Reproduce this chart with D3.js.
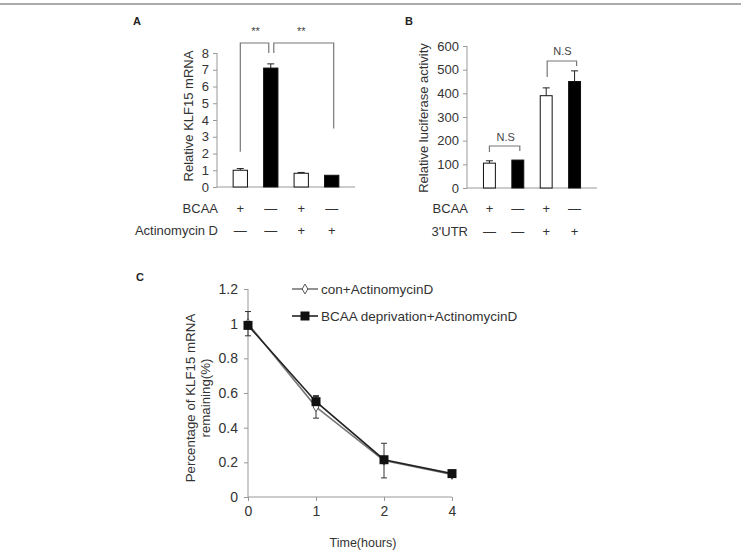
<!DOCTYPE html>
<html>
<head>
<meta charset="utf-8">
<script src="https://cdn.jsdelivr.net/npm/d3@7"></script>
<style>
  body { margin: 0; background: #fff; }
  svg { display: block; font-family: "Liberation Sans", Arial, sans-serif; }
</style>
</head>
<body>
<svg id="fig" width="741" height="560"></svg>
<script>
// panel A data
const groupsA = ["g1", "g2", "g3", "g4"];
const valuesA = [1.0, 7.1, 0.82, 0.7];
const errorsA = [0.1, 0.25, 0.05, 0.02];
const fillA = ["white", "black", "white", "black"];
const bcaaA = ["+", "—", "+", "—"];
const actinoA = ["—", "—", "+", "+"];
const ticksA = [0, 1, 2, 3, 4, 5, 6, 7, 8];

// panel B data
const groupsB = ["g1", "g2", "g3", "g4"];
const valuesB = [105, 118, 390, 450];
const errorsB = [10, 2, 33, 45];
const fillB = ["white", "black", "white", "black"];
const bcaaB = ["+", "—", "+", "—"];
const utrB = ["—", "—", "+", "+"];
const ticksB = [0, 100, 200, 300, 400, 500, 600];

// panel C data
const timesC = ["0", "1", "2", "4"];
const conC = [1.0, 0.52, 0.21, 0.13];
const conErr = [0.07, 0.065, 0.1, 0.01];
const bcaaC = [0.99, 0.55, 0.215, 0.135];
const bcaaErr = [0.0, 0.03, 0.0, 0.0];
const ticksC = [0, 0.2, 0.4, 0.6, 0.8, 1.0, 1.2];

const svg = d3.select("#fig");
const textCol = "#333";
const axisCol = "#999";

// top rule
svg.append("line")
    .attr("x1", 0).attr("x2", 741).attr("y1", 4).attr("y2", 4)
    .attr("stroke", "#aaa").attr("stroke-width", 2);

function panelLetter(x, y, t) {
    svg.append("text").attr("x", x).attr("y", y)
        .attr("font-size", 11).attr("font-weight", "bold").attr("fill", "#222")
        .text(t);
}
panelLetter(133, 25, "A");
panelLetter(405, 25, "B");
panelLetter(136, 281, "C");

function barPanel(opt) {
    const g = svg.append("g");
    const x = d3.scaleBand().domain(opt.groups).range([opt.x0, opt.x1]).padding(opt.pad);
    const y = d3.scaleLinear().domain([0, opt.ymax]).range([opt.y0, opt.y1]);

    // y axis
    const ya = g.append("g").attr("transform", `translate(${opt.x0},0)`)
        .call(d3.axisLeft(y).tickValues(opt.ticks).tickSize(4).tickPadding(4));
    ya.selectAll("path, line").attr("stroke", axisCol);
    ya.selectAll("text").attr("font-size", 13).attr("fill", textCol)
        .attr("font-family", "Liberation Sans, Arial, sans-serif");
    ya.select(".domain").attr("d", `M-0,${opt.y0}V${opt.y1}`);

    // x axis line
    g.append("line").attr("x1", opt.x0).attr("x2", opt.x1)
        .attr("y1", opt.y0).attr("y2", opt.y0).attr("stroke", axisCol);

    // error bars (upper only)
    g.selectAll(".err").data(opt.groups).join("g").each(function (d, i) {
        if (opt.errors[i] <= 0.03 * opt.ymax / 8) return;
        const cx = x(d) + x.bandwidth() / 2;
        const top = y(opt.values[i] + opt.errors[i]);
        const s = d3.select(this);
        s.append("line").attr("x1", cx).attr("x2", cx)
            .attr("y1", y(opt.values[i])).attr("y2", top).attr("stroke", "#222");
        s.append("line").attr("x1", cx - 3.5).attr("x2", cx + 3.5)
            .attr("y1", top).attr("y2", top).attr("stroke", "#222");
    });

    // bars
    g.selectAll(".bar").data(opt.groups).join("rect")
        .attr("x", d => x(d))
        .attr("width", x.bandwidth())
        .attr("y", (d, i) => y(opt.values[i]))
        .attr("height", (d, i) => opt.y0 - y(opt.values[i]))
        .attr("fill", (d, i) => opt.fill[i])
        .attr("stroke", "#111").attr("stroke-width", 1);

    // y label
    g.append("text")
        .attr("transform", `translate(${opt.labX},${opt.labY}) rotate(-90)`)
        .attr("text-anchor", "middle").attr("font-size", 13).attr("fill", textCol)
        .attr("dy", "0.35em")
        .text(opt.ylabel);

    // condition rows
    opt.rows.forEach((r, ri) => {
        const ry = opt.rowY[ri];
        g.append("text").attr("x", opt.x0 + 1).attr("y", ry)
            .attr("text-anchor", "end").attr("dy", "0.35em")
            .attr("font-size", 13).attr("fill", textCol).text(r.name);
        g.selectAll(null).data(opt.groups).join("text")
            .attr("x", d => x(d) + x.bandwidth() / 2)
            .attr("y", ry).attr("dy", "0.35em")
            .attr("text-anchor", "middle").attr("font-size", 13).attr("fill", textCol)
            .text((d, i) => r.vals[i]);
    });
    return { x, y, g };
}

// ---- Panel A
const A = barPanel({
    groups: groupsA, values: valuesA, errors: errorsA, fill: fillA,
    x0: 217, x1: 355, y0: 187, y1: 53, ymax: 8, pad: 0.53,
    ticks: ticksA, ylabel: "Relative  KLF15 mRNA", labX: 188, labY: 116,
    rows: [{ name: "BCAA", vals: bcaaA }, { name: "Actinomycin D", vals: actinoA }],
    rowY: [208, 230]
});
{
    const cx = d => A.x(d) + A.x.bandwidth() / 2;
    const path = d3.path();
    path.moveTo(cx("g1"), A.y(2.1));
    path.lineTo(cx("g1"), 43);
    path.lineTo(cx("g2") - 2, 43);
    path.lineTo(cx("g2") - 2, 53);
    path.moveTo(cx("g2") + 3, 53);
    path.lineTo(cx("g2") + 3, 43);
    path.lineTo(cx("g4") + 2, 43);
    path.lineTo(cx("g4") + 2, A.y(3.5));
    A.g.append("path").attr("d", path.toString()).attr("fill", "none")
        .attr("stroke", "#777").attr("stroke-width", 1.2);
    A.g.append("text").attr("x", (cx("g1") + cx("g2")) / 2).attr("y", 35)
        .attr("text-anchor", "middle").attr("font-size", 11).attr("fill", "#444").text("**");
    A.g.append("text").attr("x", (cx("g2") + cx("g4")) / 2).attr("y", 35)
        .attr("text-anchor", "middle").attr("font-size", 11).attr("fill", "#444").text("**");
}

// ---- Panel B
const B = barPanel({
    groups: groupsB, values: valuesB, errors: errorsB, fill: fillB,
    x0: 467, x1: 597, y0: 188, y1: 46, ymax: 600, pad: 0.58,
    ticks: ticksB, ylabel: "Relative  luciferase activity", labX: 423, labY: 118,
    rows: [{ name: "BCAA", vals: bcaaB }, { name: "3'UTR", vals: utrB }],
    rowY: [208, 231]
});
{
    const cx = d => B.x(d) + B.x.bandwidth() / 2;
    const p = d3.path();
    p.moveTo(cx("g1"), 152); p.lineTo(cx("g1"), 146);
    p.lineTo(cx("g2") + 2, 146); p.lineTo(cx("g2") + 2, 151);
    p.moveTo(cx("g3") + 1, 77); p.lineTo(cx("g3") + 1, 61);
    p.lineTo(cx("g4") + 2, 61); p.lineTo(cx("g4") + 2, 66);
    B.g.append("path").attr("d", p.toString()).attr("fill", "none")
        .attr("stroke", "#777").attr("stroke-width", 1.2);
    B.g.append("text").attr("x", (cx("g1") + cx("g2")) / 2 + 2).attr("y", 141)
        .attr("text-anchor", "middle").attr("font-size", 11).attr("fill", "#444").text("N.S");
    B.g.append("text").attr("x", (cx("g3") + cx("g4")) / 2 + 2).attr("y", 55)
        .attr("text-anchor", "middle").attr("font-size", 11).attr("fill", "#444").text("N.S");
}

// ---- Panel C
{
    const g = svg.append("g");
    const x = d3.scalePoint().domain(timesC).range([248, 452]);
    const y = d3.scaleLinear().domain([0, 1.2]).range([497, 289]);

    const ya = g.append("g").attr("transform", "translate(248,0)")
        .call(d3.axisLeft(y).tickValues(ticksC).tickFormat(d => d3.format("")(+d.toFixed(1))).tickSize(4).tickPadding(6));
    ya.selectAll("path, line").attr("stroke", axisCol);
    ya.select(".domain").attr("d", "M0,497V289");
    ya.selectAll("text").attr("font-size", 14).attr("fill", textCol)
        .attr("font-family", "Liberation Sans, Arial, sans-serif");

    const xa = g.append("g").attr("transform", "translate(0,497)")
        .call(d3.axisBottom(x).tickSize(4).tickPadding(5));
    xa.selectAll("path, line").attr("stroke", axisCol);
    xa.select(".domain").attr("d", "M248,0H452");
    xa.selectAll("text").attr("font-size", 14).attr("fill", textCol)
        .attr("font-family", "Liberation Sans, Arial, sans-serif");

    g.append("text").attr("x", 363).attr("y", 547).attr("text-anchor", "middle")
        .attr("font-size", 12.5).attr("fill", textCol).text("Time(hours)");
    g.append("text").attr("transform", "translate(190,398) rotate(-90)")
        .attr("text-anchor", "middle").attr("dy", "0.35em")
        .attr("font-size", 13.3).attr("fill", textCol).text("Percentage  of  KLF15 mRNA");
    g.append("text").attr("transform", "translate(205,398) rotate(-90)")
        .attr("text-anchor", "middle").attr("dy", "0.35em")
        .attr("font-size", 13.3).attr("fill", textCol).text("remaining(%)");

    const line = d3.line().x((d, i) => x(timesC[i])).y(d => y(d));

    // error bars
    function errBars(vals, errs, dx) {
        timesC.forEach((t, i) => {
            if (errs[i] < 0.02) return;
            const cx = x(t) + dx;
            const t0 = y(vals[i] + errs[i]), t1 = y(vals[i] - errs[i]);
            g.append("line").attr("x1", cx).attr("x2", cx).attr("y1", t0).attr("y2", t1).attr("stroke", "#333");
            [t0, t1].forEach(yy => g.append("line").attr("x1", cx - 3).attr("x2", cx + 3)
                .attr("y1", yy).attr("y2", yy).attr("stroke", "#333"));
        });
    }
    errBars(conC, conErr, 0);
    errBars(bcaaC, bcaaErr, 0);

    g.append("path").datum(conC).attr("d", line).attr("fill", "none")
        .attr("stroke", "#777").attr("stroke-width", 1.6);
    g.append("path").datum(bcaaC).attr("d", line).attr("fill", "none")
        .attr("stroke", "#222").attr("stroke-width", 1.6);

    const diamond = d3.symbol().type(d3.symbolDiamond).size(28);
    g.selectAll(".dm").data(conC).join("path")
        .attr("transform", (d, i) => `translate(${x(timesC[i])},${y(d)})`)
        .attr("d", diamond).attr("fill", "white").attr("stroke", "#555");
    g.selectAll(".sq").data(bcaaC).join("rect")
        .attr("x", (d, i) => x(timesC[i]) - 4.5).attr("y", d => y(d) - 4.5)
        .attr("width", 9).attr("height", 9).attr("fill", "#111");

    // legend
    const leg = [
        { name: "con+ActinomycinD", col: "#777", mk: "diamond", y: 289 },
        { name: "BCAA deprivation+ActinomycinD", col: "#222", mk: "square", y: 316 }
    ];
    leg.forEach(l => {
        g.append("line").attr("x1", 292).attr("x2", 318).attr("y1", l.y).attr("y2", l.y)
            .attr("stroke", l.col).attr("stroke-width", 1.6);
        if (l.mk === "diamond") {
            g.append("path").attr("transform", `translate(305,${l.y})`).attr("d", diamond)
                .attr("fill", "white").attr("stroke", "#555");
        } else {
            g.append("rect").attr("x", 300.5).attr("y", l.y - 4.5).attr("width", 9).attr("height", 9)
                .attr("fill", "#111");
        }
        g.append("text").attr("x", 321).attr("y", l.y).attr("dy", "0.35em")
            .attr("font-size", 13.5).attr("fill", textCol).text(l.name);
    });
}
</script>
</body>
</html>
